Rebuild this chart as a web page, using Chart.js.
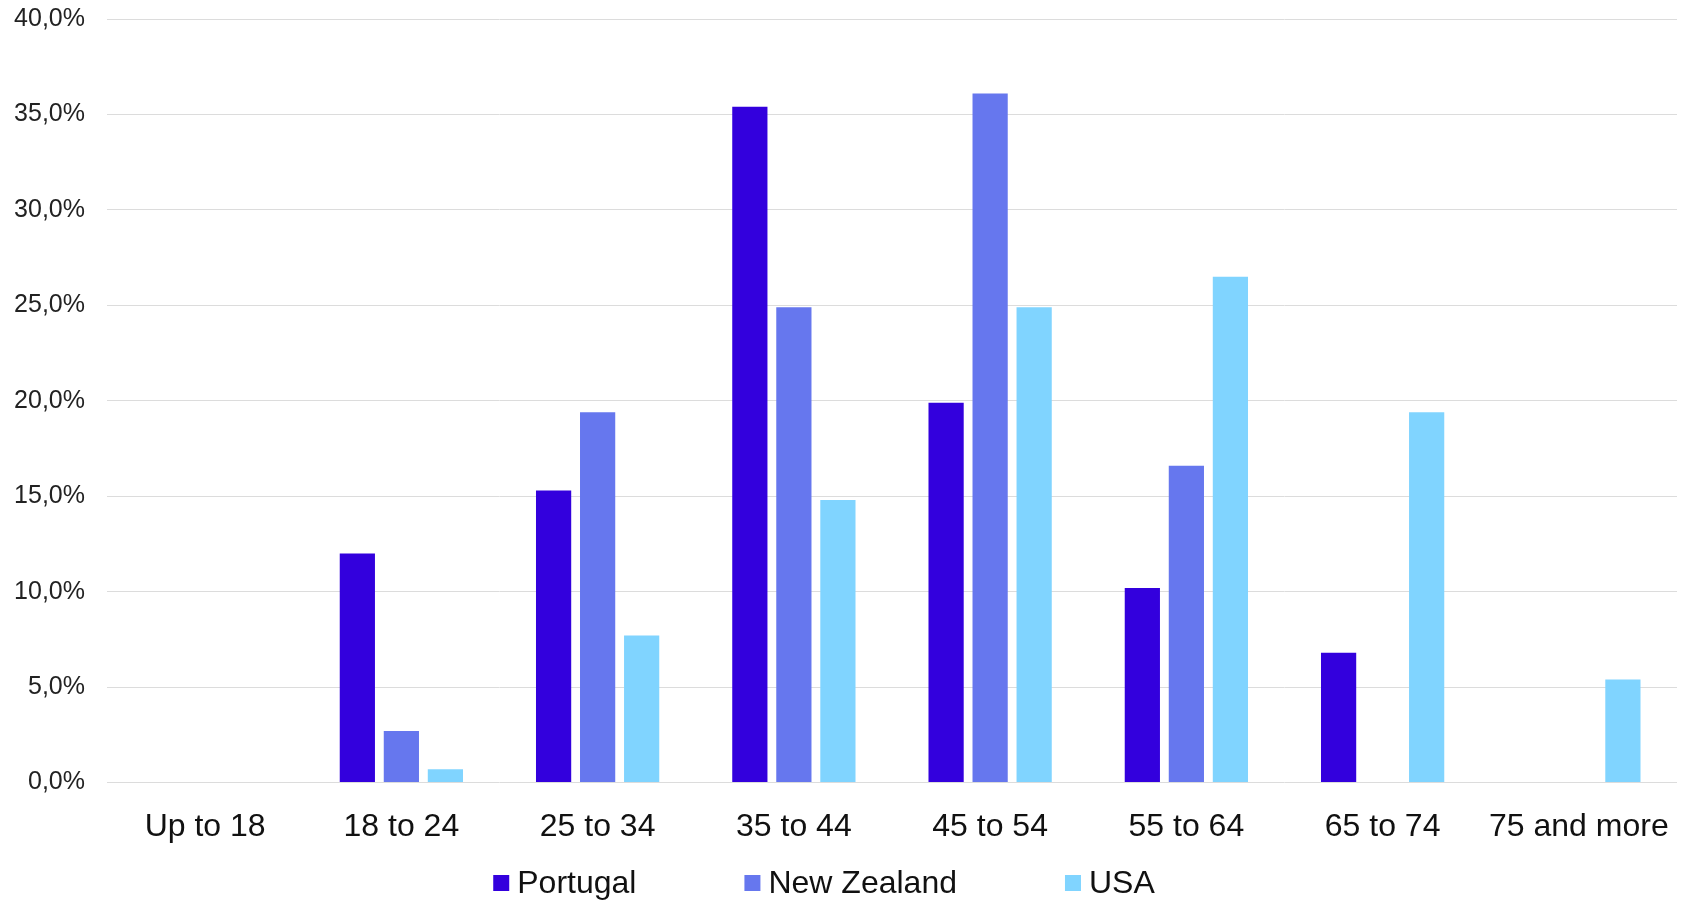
<!DOCTYPE html>
<html>
<head>
<meta charset="utf-8">
<script src="https://cdn.jsdelivr.net/npm/chart.js@4/dist/chart.umd.min.js"></script>
<style>
  html, body { margin: 0; padding: 0; background: #fff; }
  #wrap { width: 1682px; height: 902px; }
</style>
</head>
<body>
<div id="wrap"><canvas id="ageChart" width="1682" height="902"></canvas></div>
<script>
const ageGroups = ['Up to 18', '18 to 24', '25 to 34', '35 to 44', '45 to 54', '55 to 64', '65 to 74', '75 and more'];
const portugal = [0, 12.0, 15.3, 35.4, 19.9, 10.2, 6.8, 0];
const newZealand = [0, 2.7, 19.4, 24.9, 36.1, 16.6, 0, 0];
const usa = [0, 0.7, 7.7, 14.8, 24.9, 26.5, 19.4, 5.4];

const FONT = '"Liberation Sans", Arial, Helvetica, sans-serif';

// legend drawn by hand so the items can sit far apart on one row
const spacedLegend = {
  id: 'spacedLegend',
  afterDraw(chart) {
    const ctx = chart.ctx;
    const box = 16, gap = 8, itemGap = 108;
    ctx.save();
    ctx.font = `32px ${FONT}`;
    const items = chart.data.datasets.map(ds => ({
      label: ds.label, color: ds.backgroundColor, w: ctx.measureText(ds.label).width
    }));
    const total = items.reduce((s, it) => s + box + gap + it.w, 0) + itemGap * (items.length - 1);
    let x = chart.width / 2 - 17 - total / 2;
    const y = chart.height - 18;
    ctx.textBaseline = 'middle';
    items.forEach(it => {
      ctx.fillStyle = it.color;
      ctx.fillRect(x, y - box / 2 - 1, box, box);
      x += box + gap;
      ctx.fillStyle = '#111';
      ctx.fillText(it.label, x, y);
      x += it.w + itemGap;
    });
    ctx.restore();
  }
};

new Chart(document.getElementById('ageChart'), {
  type: 'bar',
  data: {
    labels: ageGroups,
    datasets: [
      { label: 'Portugal', data: portugal, backgroundColor: '#3300dd' },
      { label: 'New Zealand', data: newZealand, backgroundColor: '#6677ee' },
      { label: 'USA', data: usa, backgroundColor: '#80d4ff' }
    ]
  },
  options: {
    responsive: false,
    animation: false,
    layout: { padding: { top: 19, right: 5, bottom: 31, left: 0 } },
    datasets: { bar: { categoryPercentage: 0.673, barPercentage: 0.8, borderWidth: 0 } },
    plugins: { legend: { display: false }, tooltip: { enabled: false } },
    scales: {
      x: {
        afterFit: s => { s.paddingLeft = 0; s.paddingRight = 0; },
        grid: { display: false, drawTicks: false },
        border: { display: false },
        ticks: { color: '#111', padding: 25, font: { family: FONT, size: 32 }, maxRotation: 0, autoSkip: false }
      },
      y: {
        min: 0, max: 40,
        afterFit: s => { s.width = 107; s.paddingTop = 0; s.paddingBottom = 0; },
        grid: { color: '#dcdcdc', lineWidth: 1, drawTicks: false },
        border: { display: false },
        ticks: {
          stepSize: 5, padding: 22, color: '#222',
          font: { family: FONT, size: 25 },
          callback: v => v.toFixed(1).replace('.', ',') + '%'
        }
      }
    }
  },
  plugins: [spacedLegend]
});
</script>
</body>
</html>
